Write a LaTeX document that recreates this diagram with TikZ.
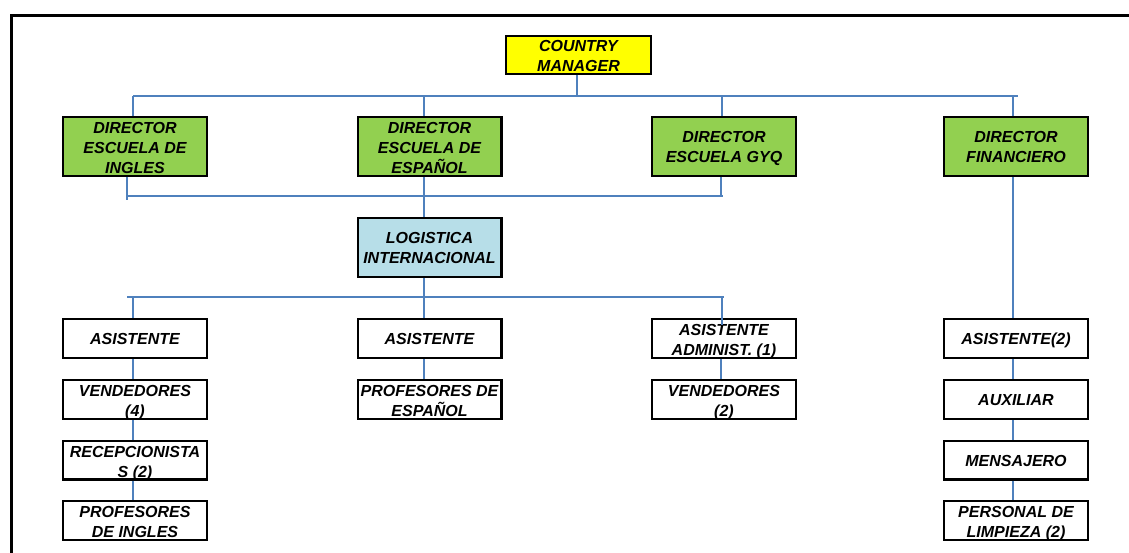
\documentclass[tikz,border=0pt]{standalone}
\usepackage{fontspec}
\setmainfont{Liberation Sans}
\definecolor{linkblue}{HTML}{4F81BD}
\definecolor{dirgreen}{HTML}{92D050}
\definecolor{topyellow}{HTML}{FFFF00}
\definecolor{logblue}{HTML}{B7DEE8}
\tikzset{
  box/.style={draw=black, line width=2.4pt, fill=white, inner sep=0pt,
    align=center, minimum width=143.6, minimum height=38.6,
    font=\fontsize{16}{20}\selectfont\bfseries\itshape},
  tall/.style={minimum height=58.6},
  % vertical placement of the text block (measured from its last baseline)
  oneline/.style={text height=12, text depth=0},
  twoline/.style={text height=34, text depth=0},
  twotall/.style={text height=33, text depth=0},
  threetall/.style={text height=55, text depth=0},
  director/.style={box, tall, fill=dirgreen},
  link/.style={draw=linkblue, line width=2pt},
  frame/.style={draw=black, line width=3pt}
}
\begin{document}
\begin{tikzpicture}[x=1pt,y=-1pt]
\useasboundingbox (0,0) rectangle (1129,553);
% outer frame (top and left edges)
\draw[frame] (11,553) -- (11,15.5) -- (1129,15.5);

% top level
\node[box, fill=topyellow, minimum width=144.6, minimum height=37.6, twoline] (cm) at (578.5,55) {COUNTRY\\MANAGER};

% directors
\node[director, threetall] (ding) at (135,146.5) {DIRECTOR\\ESCUELA DE\\INGLES};
\node[director, threetall] (desp) at (429.5,146.5) {DIRECTOR\\ESCUELA DE\\ESPAÑOL};
\node[director, twotall] (dgyq) at (724,146.5) {DIRECTOR\\ESCUELA GYQ};
\node[director, twotall] (dfin) at (1016,146.5) {DIRECTOR\\FINANCIERO};

% logistics
\node[box, tall, fill=logblue, text height=32, text depth=0] (log) at (429.5,247.5) {LOGISTICA\\INTERNACIONAL};

% column: English school
\node[box, oneline] (a1) at (135,338.5) {ASISTENTE};
\node[box, twoline] (a2) at (135,399.5) {VENDEDORES\\(4)};
\node[box, twoline] (a3) at (135,460) {RECEPCIONISTA\\S (2)};
\node[box, twoline] (a4) at (135,520.5) {PROFESORES\\DE INGLES};

% column: Spanish school
\node[box, oneline] (b1) at (429.5,338.5) {ASISTENTE};
\node[box, twoline] (b2) at (429.5,399.5) {PROFESORES DE\\ESPAÑOL};

% column: GYQ school
\node[box, twoline] (c1) at (724,338.5) {ASISTENTE\\ADMINIST. (1)};
\node[box, twoline] (c2) at (724,399.5) {VENDEDORES\\(2)};

% column: finance
\node[box, oneline] (f1) at (1016,338.5) {ASISTENTE(2)};
\node[box, oneline] (f2) at (1016,399.5) {AUXILIAR};
\node[box, oneline] (f3) at (1016,460) {MENSAJERO};
\node[box, twoline] (f4) at (1016,520.5) {PERSONAL DE\\LIMPIEZA (2)};

% bus below the country manager
\coordinate (busA) at (133,96);
\coordinate (busAend) at (1018,96);
\draw[link] (cm.south -| 577,0) -- (577,96);
\draw[link] (busA) -- (busAend);
\draw[link] (busA) -- (busA |- ding.north);
\draw[link] (424,96) -- (424,96 |- desp.north);
\draw[link] (722,96) -- (722,96 |- dgyq.north);
\draw[link] (1013,96) -- (1013,96 |- dfin.north);

% bus joining the schools to logistics
\coordinate (busB) at (127,196);
\coordinate (busBend) at (723,196);
\draw[link] (busB) -- (busBend);
\draw[link] (127,0 |- ding.south) -- (127,200);
\draw[link] (721,0 |- dgyq.south) -- (721,197);
\draw[link] (424,0 |- desp.south) -- (424,0 |- log.north);

% bus below logistics
\coordinate (busC) at (127,297);
\coordinate (busCend) at (724,297);
\draw[link] (busC) -- (busCend);
\draw[link] (133,297) -- (133,0 |- a1.north);
\draw[link] (424,0 |- log.south) -- (424,0 |- b1.north);
\draw[link] (722,297) -- (722,325);

% links inside the columns
\draw[link] (133,0 |- a1.south) -- (133,0 |- a2.north);
\draw[link] (133,0 |- a2.south) -- (133,0 |- a3.north);
\draw[link] (133,0 |- a3.south) -- (133,0 |- a4.north);
\draw[link] (424,0 |- b1.south) -- (424,0 |- b2.north);
\draw[link] (721,0 |- c1.south) -- (721,0 |- c2.north);
\draw[link] (1013,0 |- dfin.south) -- (1013,0 |- f1.north);
\draw[link] (1013,0 |- f1.south) -- (1013,0 |- f2.north);
\draw[link] (1013,0 |- f2.south) -- (1013,0 |- f3.north);
\draw[link] (1013,0 |- f3.south) -- (1013,0 |- f4.north);
\end{tikzpicture}
\end{document}
